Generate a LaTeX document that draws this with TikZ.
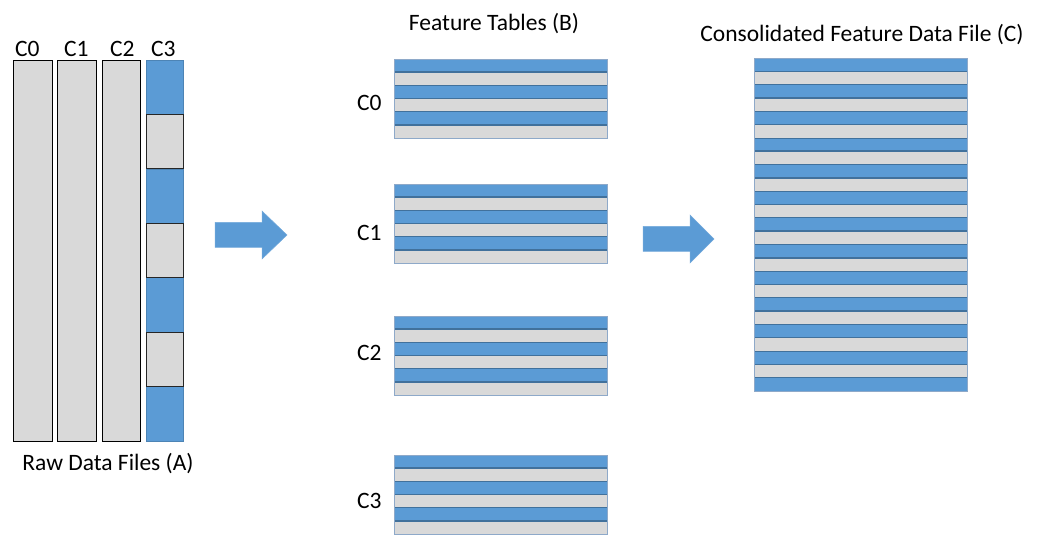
\documentclass[tikz,border=0pt]{standalone}
\usepackage{fontspec}
\setmainfont{Carlito}

\definecolor{fileblue}{HTML}{5B9BD5}
\definecolor{filegray}{HTML}{D9D9D9}
\definecolor{rowline}{HTML}{41719C}
\definecolor{tableedge}{HTML}{8EA9C9}

\tikzset{
  labeltext/.style={font=\fontsize{23.5}{28}\selectfont, inner sep=0pt},
  bluerow/.style={fill=fileblue},
  grayrow/.style={fill=filegray},
  bluesep/.style={draw=rowline, line width=1.5pt},
  graysep/.style={draw=rowline, line width=0.7pt},
  rawcolumn/.style={fill=filegray, draw=black, line width=0.8pt},
  bigarrow/.style={fill=fileblue, draw=fileblue!85!white, line width=0.5pt},
}

\begin{document}
\begin{tikzpicture}[x=1pt,y=1pt]
    \useasboundingbox (0,0) rectangle (1042,535);

    % Raw data files (A)
    \draw[rawcolumn] (13,94) rectangle (52,475);
    \draw[rawcolumn] (57,94) rectangle (96,475);
    \draw[rawcolumn] (102,94) rectangle (140,475);
    \foreach \s in {0,2,4,6}
      \draw[fill=fileblue, draw=fileblue!85!black, line width=0.6pt]
        (146,{475-\s*54.43}) rectangle (183,{475-(\s+1)*54.43});
    \foreach \s in {1,3,5}
      \draw[fill=filegray, draw=black!85, line width=0.8pt]
        (146,{475-\s*54.43}) rectangle (183,{475-(\s+1)*54.43});
    \node[labeltext, anchor=base west] (rawC0) at (15,478) {C0};
    \node[labeltext, anchor=base west] (rawC1) at (64,478) {C1};
    \node[labeltext, anchor=base west] (rawC2) at (110,478) {C2};
    \node[labeltext, anchor=base west] (rawC3) at (151,478) {C3};
    \node[labeltext, anchor=base] (rawtitle) at (108,64) {Raw Data Files (A)};

    % Arrow A -> B
    \begin{scope}[shift={(215,300)}]
      \draw[bigarrow] (0,-12.5) -- (47,-12.5) -- (47,-24) -- (72,0)
        -- (47,24) -- (47,12.5) -- (0,12.5) -- cycle;
    \end{scope}

    % Feature tables (B)
    \node[labeltext, anchor=base] (tabletitle) at (494,504) {Feature Tables (B)};
    \foreach \name/\top/\base in {C0/476/424, C1/351/294, C2/219/174, C3/80/26} {
      \begin{scope}[shift={(394,\top)}]
        \foreach \r in {0,2,4} {
          \fill[bluerow] (0,{-\r*13.17}) rectangle (213,{-(\r+1)*13.17});
          \fill[grayrow] (0,{-(\r+1)*13.17}) rectangle (213,{-(\r+2)*13.17});
        }
        \foreach \r in {1,3,5}
          \draw[bluesep] (0,{-\r*13.17}) -- (213,{-\r*13.17});
        \foreach \r in {2,4}
          \draw[graysep] (0,{-\r*13.17}) -- (213,{-\r*13.17});
        \draw[tableedge, line width=0.8pt] (0,0) rectangle (213,-79);
      \end{scope}
      \node[labeltext, anchor=base west] (table\name) at (357,\base) {\name};
    }

    % Arrow B -> C
    \begin{scope}[shift={(643,296)}]
      \draw[bigarrow] (0,-12.5) -- (47,-12.5) -- (47,-24) -- (71,0)
        -- (47,24) -- (47,12.5) -- (0,12.5) -- cycle;
    \end{scope}

    % Consolidated feature data file (C)
    \node[labeltext, anchor=base] (consoltitle) at (862,493) {Consolidated Feature Data File (C)};
    \begin{scope}[shift={(754,477)}]
      \foreach \r in {0,2,...,24}
        \fill[bluerow] (0,{-\r*13.32}) rectangle (213,{-(\r+1)*13.32});
      \foreach \r in {1,3,...,23}
        \fill[grayrow] (0,{-\r*13.32}) rectangle (213,{-(\r+1)*13.32});
      \foreach \r in {1,3,...,23}
        \draw[bluesep] (0,{-\r*13.32}) -- (213,{-\r*13.32});
      \foreach \r in {2,4,...,24}
        \draw[graysep] (0,{-\r*13.32}) -- (213,{-\r*13.32});
      \draw[tableedge, line width=0.8pt] (0,0) rectangle (213,-333);
    \end{scope}

\end{tikzpicture}
\end{document}
